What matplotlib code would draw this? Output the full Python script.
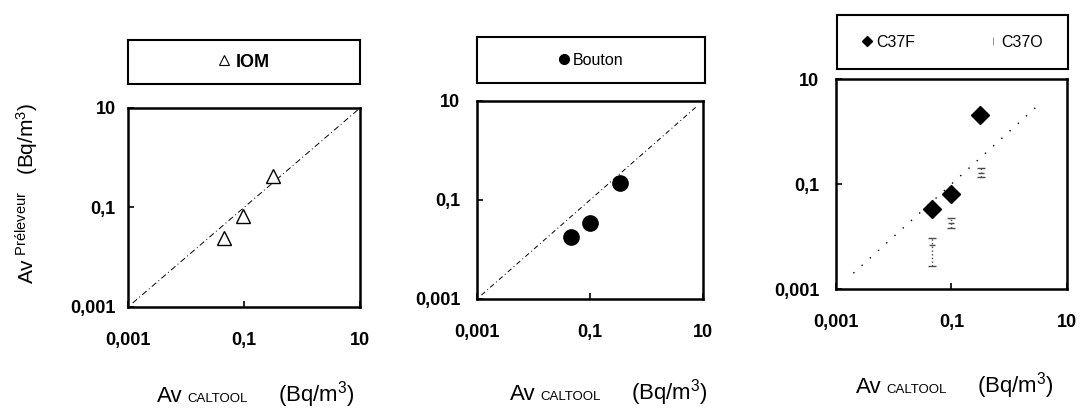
import matplotlib
matplotlib.use("Agg")
import matplotlib.pyplot as plt
from matplotlib.lines import Line2D
from matplotlib.offsetbox import TextArea, HPacker, AnchoredOffsetbox

plt.rcParams['font.family'] = ['Liberation Sans', 'DejaVu Sans']
plt.rcParams['mathtext.fontset'] = 'custom'
plt.rcParams['mathtext.rm'] = 'Liberation Sans'
plt.rcParams['mathtext.it'] = 'Liberation Sans:italic'
plt.rcParams['mathtext.bf'] = 'Liberation Sans:bold'

# valeurs lues (Bq/m3)
iom_x = [0.045, 0.096, 0.32]
iom_y = [0.024, 0.068, 0.43]

bouton_x = [0.046, 0.10, 0.34]
bouton_y = [0.018, 0.035, 0.22]

c37f_x = [0.046, 0.10, 0.31]
c37f_y = [0.034, 0.065, 2.1]

c37o_x = [0.046, 0.10, 0.32]
c37o_y = [0.0068, 0.018, 0.165]
c37o_min = [0.0027, 0.0145, 0.136]
c37o_max = [0.0095, 0.0225, 0.20]

ticks = [0.001, 0.1, 10]
tick_labels = ['0,001', '0,1', '10']

fig = plt.figure(figsize=(10.86, 4.12), dpi=100)

ax1 = fig.add_axes([0.1179, 0.2549, 0.2136, 0.4830])
ax2 = fig.add_axes([0.4392, 0.2743, 0.2081, 0.4806])
ax3 = fig.add_axes([0.7698, 0.2985, 0.2127, 0.5097])

lb1 = fig.add_axes([0.1179, 0.7961, 0.2136, 0.1068])
lb2 = fig.add_axes([0.4392, 0.7985, 0.2099, 0.1117])
lb3 = fig.add_axes([0.7707, 0.8325, 0.2127, 0.1311])


def mise_en_forme(ax, ypad):
    ax.set_xscale('log')
    ax.set_yscale('log')
    ax.set_xlim(0.001, 10)
    ax.set_ylim(0.001, 10)
    ax.set_xticks(ticks)
    ax.set_xticklabels(tick_labels, fontweight='bold')
    ax.set_yticks(ticks)
    ax.set_yticklabels(tick_labels, fontweight='bold')
    ax.minorticks_off()
    ax.tick_params(axis='x', direction='in', length=4, width=1.2, pad=18, labelsize=13)
    ax.tick_params(axis='y', direction='in', length=4, width=1.2, pad=ypad, labelsize=13)
    for sp in ax.spines.values():
        sp.set_linewidth(1.8)


# IOM
ax1.plot([0.0012, 10], [0.0012, 10], color='black', lw=0.7, ls=(0, (6, 3, 1, 3)))
ax1.plot(iom_x, iom_y, ls='none', marker='^', ms=10, mfc='white', mec='black', mew=1.0)
mise_en_forme(ax1, 9)

# Bouton
ax2.plot([0.0012, 8], [0.0012, 8], color='black', lw=0.7, ls=(0, (5, 3, 1, 3)))
ax2.plot(bouton_x, bouton_y, ls='none', marker='o', ms=11, color='black')
mise_en_forme(ax2, 12)

# C37F / C37O
ax3.plot([0.002, 3], [0.002, 3], color='black', lw=1.0, ls=(0, (1, 7)))
ax3.plot(c37f_x, c37f_y, ls='none', marker='D', ms=9, color='black')
err_lo = [y - lo for y, lo in zip(c37o_y, c37o_min)]
err_hi = [hi - y for y, hi in zip(c37o_y, c37o_max)]
eb = ax3.errorbar(c37o_x, c37o_y, yerr=[err_lo, err_hi], fmt='_', ms=5,
                  color='0.3', ecolor='0.3', elinewidth=1.0, capsize=3, capthick=1.0)
eb[2][0].set_linestyle(':')
mise_en_forme(ax3, 12)

# cadres de légende
for lb in (lb1, lb2, lb3):
    lb.set_xticks([])
    lb.set_yticks([])
    for sp in lb.spines.values():
        sp.set_linewidth(1.5)

h_iom = Line2D([], [], ls='none', marker='^', ms=7, mfc='white', mec='black', mew=0.8)
lb1.legend([h_iom], ['IOM'], loc='center', frameon=False, handlelength=0.7,
           handletextpad=0.3, prop={'size': 13, 'weight': 'bold'})

h_bou = Line2D([], [], ls='none', marker='o', ms=7, color='black')
lb2.legend([h_bou], ['Bouton'], loc='center', frameon=False, handlelength=0.7,
           handletextpad=0.2, prop={'size': 11.5})

h_f = Line2D([], [], ls='none', marker='D', ms=5, color='black')
h_o = Line2D([], [], ls='none', marker='|', ms=6, color='0.5', mew=0.6)
lb3.legend([h_f, h_o], ['C37F', 'C37O'], loc='center', frameon=False, ncol=2,
           handlelength=0.7, handletextpad=0.2, columnspacing=4.5, prop={'size': 11.5})


# titres des axes x
def titre_x(x, y):
    av = TextArea('Av', textprops=dict(fontsize=16))
    cal = TextArea('CALTOOL', textprops=dict(fontsize=9.5))
    unite = TextArea(r'(Bq/m$^{3}$)', textprops=dict(fontsize=16))
    gauche = HPacker(children=[av, cal], align='baseline', sep=3, pad=0)
    bloc = HPacker(children=[gauche, unite], align='baseline', sep=22, pad=0)
    ab = AnchoredOffsetbox(loc='center', child=bloc, bbox_to_anchor=(x, y),
                           bbox_transform=fig.transFigure, frameon=False,
                           pad=0, borderpad=0)
    fig.add_artist(ab)


titre_x(0.2357, 0.042)
titre_x(0.5608, 0.046)
titre_x(0.8794, 0.0633)

fig.text(0.0249, 0.5316,
         r'$\mathrm{Av}^{\ \mathrm{Préleveur}}\ \ \ \mathrm{(Bq/m}^{3}\mathrm{)}$',
         rotation=90, ha='center', va='center', fontsize=15)

fig.savefig('out.png', dpi=100)
